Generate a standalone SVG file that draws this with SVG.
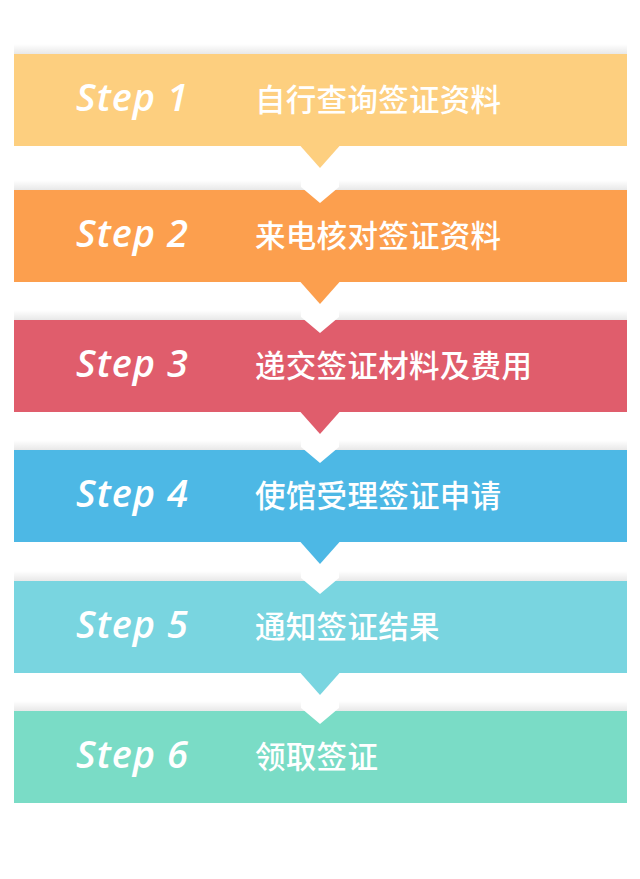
<svg xmlns="http://www.w3.org/2000/svg" width="640" height="879" viewBox="0 0 640 879">
  <defs>
    <linearGradient id="sh" x1="0" y1="0" x2="0" y2="1">
      <stop offset="0" stop-color="#000" stop-opacity="0"/>
      <stop offset="1" stop-color="#000" stop-opacity="0.09"/>
    </linearGradient>
  </defs>
  <style>
    .shadow { fill: url(#sh); }
    .step { font-family: "Open Sans", "DejaVu Sans", sans-serif; font-style: italic; font-weight: 600; font-size: 38px; letter-spacing: 1px; fill: #fff; }
    .label { font-family: "Noto Sans CJK SC", "Noto Sans", sans-serif; font-size: 30.5px; font-weight: 500; letter-spacing: 0.3px; fill: #fff; }
    .notch { fill: #fff; }
  </style>
  <rect width="640" height="879" fill="#fff"/>

  <g id="step1">
    <rect class="shadow" x="14" y="44" width="613" height="10"/>
    <rect x="14" y="54" width="613" height="92" fill="#FDCF7F"/>
    <text class="step" x="76" y="111">Step 1</text>
    <text class="label" x="255" y="111">自行查询签证资料</text>
  </g>
  <g id="step2">
    <rect class="shadow" x="14" y="180" width="613" height="10"/>
    <rect x="14" y="190" width="613" height="92" fill="#FC9F4E"/>
    <text class="step" x="76" y="247">Step 2</text>
    <text class="label" x="255" y="247">来电核对签证资料</text>
  </g>
  <g id="step3">
    <rect class="shadow" x="14" y="310" width="613" height="10"/>
    <rect x="14" y="320" width="613" height="92" fill="#E05D6C"/>
    <text class="step" x="76" y="377">Step 3</text>
    <text class="label" x="255" y="377">递交签证材料及费用</text>
  </g>
  <g id="step4">
    <rect class="shadow" x="14" y="440" width="613" height="10"/>
    <rect x="14" y="450" width="613" height="92" fill="#4DB8E5"/>
    <text class="step" x="76" y="507">Step 4</text>
    <text class="label" x="255" y="507">使馆受理签证申请</text>
  </g>
  <g id="step5">
    <rect class="shadow" x="14" y="571" width="613" height="10"/>
    <rect x="14" y="581" width="613" height="92" fill="#79D5E0"/>
    <text class="step" x="76" y="638">Step 5</text>
    <text class="label" x="255" y="638">通知签证结果</text>
  </g>
  <g id="step6">
    <rect class="shadow" x="14" y="701" width="613" height="10"/>
    <rect x="14" y="711" width="613" height="92" fill="#7ADCC6"/>
    <text class="step" x="76" y="768">Step 6</text>
    <text class="label" x="255" y="768">领取签证</text>
  </g>

  <g id="connectors">
    <polygon class="notch" points="301,178 339,178 339,187 320,203 301,187"/>
    <polygon points="300.5,146 339.5,146 320,168" fill="#FDCF7F"/>
    <polygon class="notch" points="301,308 339,308 339,317 320,333 301,317"/>
    <polygon points="300.5,282 339.5,282 320,304" fill="#FC9F4E"/>
    <polygon class="notch" points="301,438 339,438 339,447 320,463 301,447"/>
    <polygon points="300.5,412 339.5,412 320,434" fill="#E05D6C"/>
    <polygon class="notch" points="301,569 339,569 339,578 320,594 301,578"/>
    <polygon points="300.5,542 339.5,542 320,564" fill="#4DB8E5"/>
    <polygon class="notch" points="301,699 339,699 339,708 320,724 301,708"/>
    <polygon points="300.5,673 339.5,673 320,695" fill="#79D5E0"/>
  </g>
</svg>
